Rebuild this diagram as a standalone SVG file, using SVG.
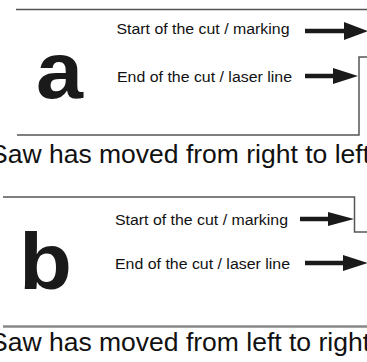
<svg xmlns="http://www.w3.org/2000/svg" width="367" height="362" viewBox="0 0 367 362">
<style>
.lbl{font-family:"Liberation Sans",Arial,sans-serif;font-size:15.5px;fill:#111}
.cap{font-family:"Liberation Sans",Arial,sans-serif;font-size:26.5px;fill:#111}
.big{font-family:"Liberation Sans",Arial,sans-serif;font-weight:bold;font-size:80px;fill:#1a1a1a}
.frame{fill:none;stroke:#555;stroke-width:1.5}
.shaft{stroke:#1a1a1a;stroke-width:4.5}
.head{fill:#1a1a1a}
</style>
<rect width="367" height="362" fill="#fff"/>
<g id="panel-a">
  <path class="frame" d="M16 9.5H367"/>
  <path class="frame" d="M17 135H359V57H367"/>
  <text class="big" x="36" y="98" textLength="47" lengthAdjust="spacingAndGlyphs">a</text>
  <text class="lbl" x="116.5" y="33.5" textLength="173" lengthAdjust="spacingAndGlyphs">Start of the cut / marking</text>
  <text class="lbl" x="117" y="81.5" textLength="175" lengthAdjust="spacingAndGlyphs">End of the cut / laser line</text>
  <text class="cap" x="-10" y="163">Saw has moved from right to left</text>
</g>
<g id="panel-b">
  <path class="frame" d="M3 197H354.5V232H367"/>
  <path d="M3 326.5H367" stroke="#888" stroke-width="2.5" fill="none"/>
  <text class="big" x="19" y="288.5" textLength="53" lengthAdjust="spacingAndGlyphs">b</text>
  <text class="lbl" x="115" y="225" textLength="173" lengthAdjust="spacingAndGlyphs">Start of the cut / marking</text>
  <text class="lbl" x="115" y="268.5" textLength="175" lengthAdjust="spacingAndGlyphs">End of the cut / laser line</text>
  <text class="cap" x="-10" y="351">Saw has moved from left to right</text>
</g>
<g id="connectors">
  <path class="shaft" d="M305 31H346"/>
  <path class="head" d="M344 22L368 31L344 40Z"/>
  <path class="shaft" d="M305 76H335"/>
  <path class="head" d="M333 68L358 76L333 84Z"/>
  <path class="shaft" d="M300 219H330"/>
  <path class="head" d="M328 212L354 219L328 226Z"/>
  <path class="shaft" d="M305 263H345"/>
  <path class="head" d="M343 255L368 263L343 271Z"/>
</g>
</svg>
